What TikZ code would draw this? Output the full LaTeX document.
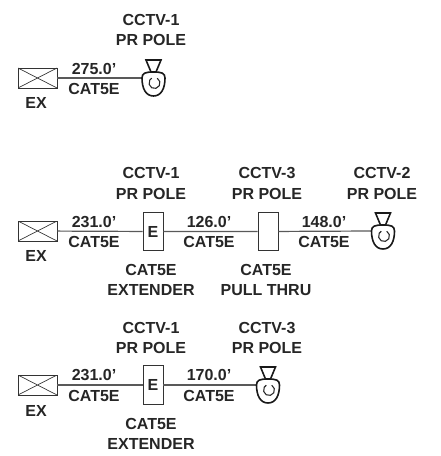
\documentclass[tikz,border=0pt]{standalone}
\usepackage{fontspec}
\setmainfont{Liberation Sans}
\tikzset{
  x=0.75pt,y=-0.75pt,
  lab/.style={font=\fontsize{12pt}{13pt}\selectfont\bfseries,text=black!85,inner sep=0pt,anchor=center},
  wire/.style={draw=black!65,line width=0.9pt},
  exbox/.style={draw=black!80,line width=0.6pt,minimum width=29.25pt,minimum height=15pt,inner sep=0pt,
    path picture={\draw[black!80,line width=0.5pt] (path picture bounding box.north west)--(path picture bounding box.south east)
      (path picture bounding box.south west)--(path picture bounding box.north east);}},
  devbox/.style={draw=black!80,fill=white,line width=0.7pt,minimum width=15pt,minimum height=29pt,inner sep=0pt,
    font=\fontsize{12pt}{13pt}\selectfont\bfseries,text=black!85},
  camanchor/.style={circle,minimum size=17pt,inner sep=0pt},
  pics/camera/.style={code={
    \draw[black!90,line width=1.2pt] (-11.5,0) .. controls (-11.5,-5) and (-8,-6) .. (0,-6)
      .. controls (8,-6) and (11.5,-5) .. (11.5,0)
      .. controls (11.5,10) and (8,18) .. (0,18) .. controls (-8,18) and (-11.5,10) .. (-11.5,0) -- cycle;
    \draw[black!90,line width=1.2pt] (-7.5,-18) -- (7.5,-18) -- (2.5,-6) -- (-2.5,-6) -- cycle;
    \draw[black!85,line width=0.8pt] (3.75,0.24) arc (-60:240:5.5);
  }}
}
\begin{document}
\begin{tikzpicture}
\useasboundingbox (0,0) rectangle (441,456);
% row 1
\node[exbox] (ex1) at (37.5,78) {};
\node[camanchor] (cam1) at (153.5,78) {};
\draw[wire] (ex1) -- (cam1.west);
\pic at (cam1) {camera};
\node[lab] (t1a) at (151,20) {CCTV-1};
\node[lab] (t1b) at (151,40) {PR POLE};
\node[lab] (t1c) at (94,69) {275.0'};
\node[lab] (t1d) at (94,89) {CAT5E};
\node[lab] (t1e) at (36,103) {EX};
% row 2
\node[exbox] (ex2) at (37.5,231) {};
\node[devbox] (e2) at (153,231.5) {E};
\node[devbox] (p2) at (268,231.5) {};
\node[camanchor] (cam2) at (383,231) {};
\draw[wire] (ex2) -- (e2) (e2) -- (p2) (p2) -- (cam2.west);
\pic at (cam2) {camera};
\node[lab] (t2a) at (151,173) {CCTV-1};
\node[lab] (t2b) at (151,194) {PR POLE};
\node[lab] (t2c) at (94,222) {231.0'};
\node[lab] (t2d) at (94,242) {CAT5E};
\node[lab] (t2e) at (36,256) {EX};
\node[lab] (t2f) at (151,270) {CAT5E};
\node[lab] (t2g) at (151,290) {EXTENDER};
\node[lab] (t2h) at (209,222) {126.0'};
\node[lab] (t2i) at (209,242) {CAT5E};
\node[lab] (t2j) at (267,173) {CCTV-3};
\node[lab] (t2k) at (267,194) {PR POLE};
\node[lab] (t2l) at (266,270) {CAT5E};
\node[lab] (t2m) at (266,290) {PULL THRU};
\node[lab] (t2n) at (324,222) {148.0'};
\node[lab] (t2o) at (324,242) {CAT5E};
\node[lab] (t2p) at (382,173) {CCTV-2};
\node[lab] (t2q) at (382,194) {PR POLE};
% row 3
\node[exbox] (ex3) at (37.5,385) {};
\node[devbox] (e3) at (153,385) {E};
\node[camanchor] (cam3) at (268,385) {};
\draw[wire] (ex3) -- (e3) (e3) -- (cam3.west);
\pic at (cam3) {camera};
\node[lab] (t3a) at (151,328) {CCTV-1};
\node[lab] (t3b) at (151,348) {PR POLE};
\node[lab] (t3c) at (94,375) {231.0'};
\node[lab] (t3d) at (94,396) {CAT5E};
\node[lab] (t3e) at (36,411) {EX};
\node[lab] (t3f) at (151,424) {CAT5E};
\node[lab] (t3g) at (151,444) {EXTENDER};
\node[lab] (t3h) at (209,375) {170.0'};
\node[lab] (t3i) at (209,396) {CAT5E};
\node[lab] (t3j) at (267,328) {CCTV-3};
\node[lab] (t3k) at (267,348) {PR POLE};
\end{tikzpicture}
\end{document}
